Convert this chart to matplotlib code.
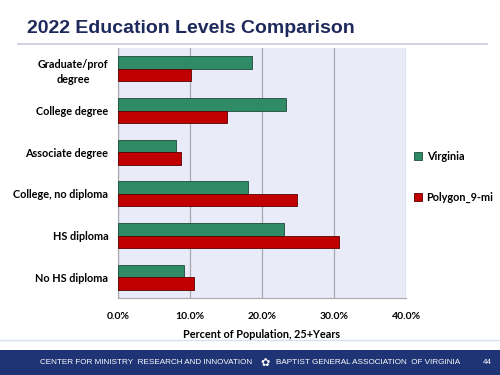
import matplotlib.pyplot as plt
from matplotlib.patches import Rectangle
from matplotlib.lines import Line2D
from matplotlib.ticker import FuncFormatter

# data (bottom to top)
categories = ["No HS diploma", "HS diploma", "College, no diploma",
              "Associate degree", "College degree", "Graduate/prof\ndegree"]
virginia = [9.2, 23.0, 18.1, 8.0, 23.3, 18.6]
polygon = [10.6, 30.7, 24.8, 8.8, 15.1, 10.1]
series_names = ["Virginia", "Polygon_9-mi"]
xticks = [0, 10, 20, 30, 40]

green = "#2F8A66"
red = "#C00000"
navy = "#1F2A5C"

fig = plt.figure(figsize=(5, 3.75), dpi=100)

# title and rule
fig.text(0.054, 0.912, "2022 Education Levels Comparison", fontsize=14,
         fontweight="bold", color=navy, family="Liberation Sans", va="baseline")
fig.add_artist(Line2D([0.036, 0.974], [0.882, 0.882], color="#C8CCD4", lw=1.2))

ax = fig.add_axes([0.236, 0.205, 0.576, 0.667])
ax.set_facecolor("#E9ECF8")
y = list(range(len(categories)))
ax.barh([i + 0.15 for i in y], virginia, height=0.3, color=green,
        edgecolor="#1E4A38", linewidth=0.6, label=series_names[0], zorder=3)
ax.barh([i - 0.15 for i in y], polygon, height=0.3, color=red,
        edgecolor="#5A0000", linewidth=0.6, label=series_names[1], zorder=3)

ax.set_xlim(0, 40)
ax.set_ylim(-0.5, 5.5)
ax.set_xticks(xticks)
ax.xaxis.set_major_formatter(FuncFormatter(lambda v, p: f"{v:.1f}%"))
ax.set_yticks(y)
ax.set_yticklabels(categories, fontsize=7.8, fontweight="bold", family="Lato",
                   linespacing=1.5, multialignment="center")
for lab in ax.get_xticklabels():
    lab.set_fontsize(7.5)
    lab.set_fontweight("bold")
    lab.set_family("Lato")
ax.tick_params(length=0, pad=7)
ax.tick_params(axis="x", pad=10)
ax.grid(axis="x", color="#A8A8B0", lw=0.9, zorder=0)
for s in ["top", "right"]:
    ax.spines[s].set_visible(False)
for s in ["left", "bottom"]:
    ax.spines[s].set_color("#A8A8B0")
ax.set_xlabel("Percent of Population, 25+Years", fontsize=7.8, fontweight="bold",
              family="Lato", labelpad=6)

leg = ax.legend(loc="upper left", bbox_to_anchor=(1.0, 0.62), frameon=False,
                prop={"family": "Lato", "weight": "bold", "size": 7.8},
                labelspacing=2.8, handlelength=0.8, handleheight=0.8,
                handletextpad=0.4, borderaxespad=0.3)

# footer band
fig.add_artist(Line2D([0.0, 1.0], [0.093, 0.093], color="#D8E0F0", lw=1))
fig.patches.append(Rectangle((0, 0), 1, 0.067, transform=fig.transFigure,
                             facecolor="#1E3474", edgecolor="none"))
fig.text(0.08, 0.032, "CENTER FOR MINISTRY  RESEARCH AND INNOVATION", color="white",
         fontsize=5.9, family="Liberation Sans", va="center")
fig.text(0.53, 0.032, "\u273F", color="white", fontsize=8, va="center", ha="center")
fig.text(0.551, 0.032, "BAPTIST GENERAL ASSOCIATION  OF VIRGINIA", color="white",
         fontsize=5.9, family="Liberation Sans", va="center")
fig.text(0.966, 0.032, "44", color="white", fontsize=5.9,
         family="Liberation Sans", va="center")

fig.savefig("out.png", dpi=100)
